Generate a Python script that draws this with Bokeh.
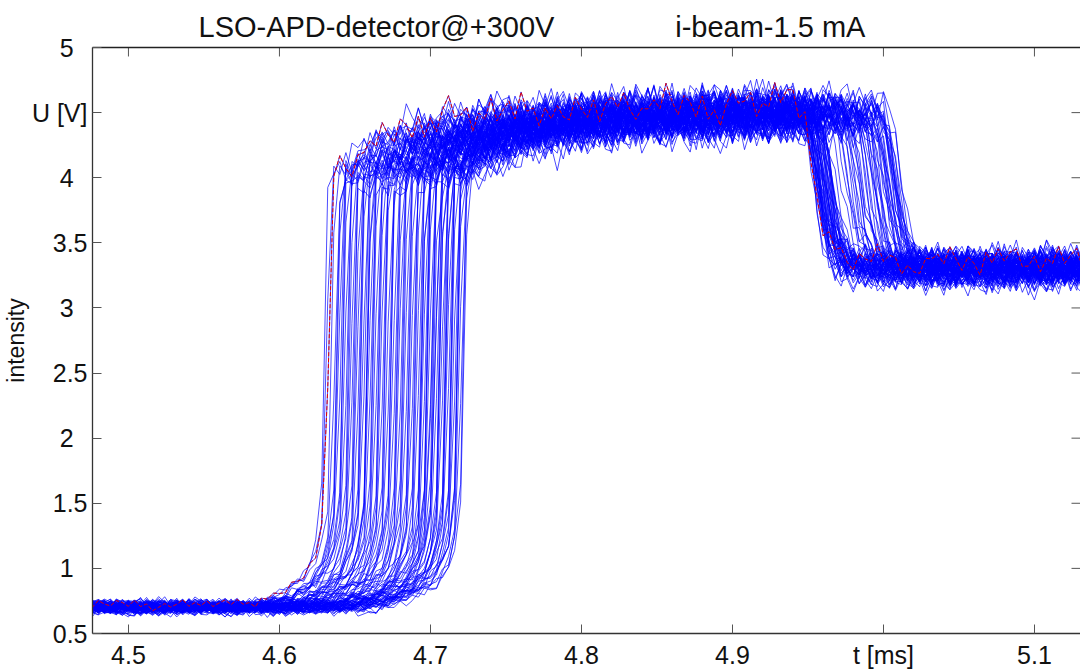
import numpy as np
from bokeh.plotting import figure
from bokeh.models import Range1d, FixedTicker, LinearAxis, Title
from bokeh.embed import file_html
from bokeh.resources import INLINE

# ---------------- values ----------------
title_left = "LSO-APD-detector@+300V"
title_right = "i-beam-1.5 mA"
y_title = "intensity"

x_ticks = [4.5, 4.6, 4.7, 4.8, 4.9, 5.0, 5.1]
x_tick_labels = ["4.5", "4.6", "4.7", "4.8", "4.9", "t [ms]", "5.1"]
y_ticks = [0.5, 1.0, 1.5, 2.0, 2.5, 3.0, 3.5, 4.0, 4.5, 5.0]
y_tick_labels = ["0.5", "1", "1.5", "2", "2.5", "3", "3.5", "4", "U [V]", "5"]

# oscilloscope sampling
sample_dt_ms = 0.004
t_first_ms = 4.472
n_samples = 167

# moment of the steep rise of each trace (ms), read along U ~ 2.5 V
rise_ms = [
    4.632, 4.705, 4.661, 4.688, 4.629, 4.717, 4.648, 4.694, 4.671, 4.655,
    4.711, 4.637, 4.683, 4.699, 4.665, 4.721, 4.644, 4.676, 4.708, 4.652,
    4.690, 4.634, 4.714, 4.668, 4.697, 4.641, 4.680, 4.658, 4.703, 4.686,
    4.719, 4.646, 4.673, 4.692, 4.639, 4.710, 4.663, 4.700, 4.650, 4.684,
    4.716, 4.657, 4.678, 4.706, 4.636, 4.695, 4.669, 4.712, 4.653, 4.689,
    4.643, 4.702, 4.674, 4.720, 4.660, 4.687, 4.631, 4.709, 4.666, 4.698,
    4.649, 4.681, 4.713, 4.656, 4.693, 4.640, 4.704, 4.672, 4.718, 4.662,
    4.685, 4.645, 4.707, 4.677, 4.696, 4.654, 4.715, 4.667, 4.701, 4.638,
    4.691, 4.659, 4.710, 4.682, 4.647, 4.706, 4.670, 4.722, 4.664, 4.697,
    4.651, 4.713, 4.679, 4.703, 4.642, 4.694, 4.675, 4.717, 4.658, 4.700,
]
# moment of the fall of each trace (ms), read along U ~ 3.9 V
fall_ms = [
    4.955, 4.998, 4.961, 5.006, 4.958, 4.976, 4.964, 5.010, 4.957, 4.991,
    4.966, 5.002, 4.960, 4.982, 4.956, 5.008, 4.963, 4.995, 4.959, 5.013,
    4.967, 4.988, 4.962, 5.004, 4.954, 4.979, 4.965, 4.999, 4.958, 5.011,
    4.961, 4.993, 4.968, 5.007, 4.956, 4.985, 4.963, 5.001, 4.960, 4.972,
    4.957, 5.009, 4.964, 4.990, 4.959, 5.005, 4.966, 4.997, 4.962, 5.012,
    4.955, 4.983, 4.965, 5.003, 4.958, 4.994, 4.961, 5.008, 4.969, 4.987,
    4.957, 5.000, 4.963, 4.974, 4.960, 5.006, 4.956, 4.992, 4.964, 5.010,
    4.959, 4.980, 4.962, 4.996, 4.967, 5.004, 4.955, 4.989, 4.961, 5.002,
    4.958, 4.977, 4.965, 5.009, 4.957, 4.998, 4.963, 5.011, 4.960, 4.986,
    4.966, 5.005, 4.959, 4.993, 4.956, 5.007, 4.962, 4.981, 4.964, 5.001,
]

# pulse shape around the rise (time relative to the rise, ms -> U in V)
rise_rel_ms = [-0.40, -0.060, -0.045, -0.035, -0.025, -0.018, -0.012, -0.008,
               -0.005, -0.0025, -0.001, 0.0025, 0.006, 0.012, 0.020, 0.035,
               0.050, 0.070, 0.100, 0.150, 0.250, 0.600]
rise_u = [0.70, 0.70, 0.73, 0.77, 0.83, 0.89, 0.97, 1.07,
          1.20, 1.38, 1.60, 3.92, 4.02, 4.08, 4.14, 4.22,
          4.29, 4.35, 4.41, 4.45, 4.48, 4.50]
# drop at the end of the pulse (time relative to the fall, ms -> drop in V)
fall_rel_ms = [-0.40, -0.012, -0.008, -0.004, 0.0, 0.004, 0.008, 0.012, 0.018, 0.030, 0.400]
fall_drop = [0.00, 0.00, 0.05, 0.25, 0.60, 0.88, 1.03, 1.11, 1.16, 1.19, 1.20]

# sample-to-sample wiggle (in units of the local noise)
wiggle_a = [0.3, -0.5, 0.8, -0.2, -0.9, 0.4, 0.1, -0.6, 0.9, -0.3, 0.5, -0.8,
            0.2, 0.7, -0.4, -0.1, 0.6, -0.7, 0.3, -0.2, 1.0, -0.5, 0.0, 0.4,
            -0.9, 0.6, -0.3, 0.2, -0.6, 0.8, -0.1, 0.5, -0.4, -0.8, 0.7, 0.1,
            -0.3, 0.9, -0.7, 0.2, 0.4, -0.5, 0.6, -0.2, -0.6, 0.3, 0.0]
# slower wander of the traces (in units of the local noise)
wander = [-0.4, 0.6, 0.1, -0.8, 0.5, -0.2, 0.9, -0.6, 0.3, -0.1, 0.7, -0.9,
          0.2, 0.4, -0.5, 0.8, -0.3, 0.0, 0.6, -0.7, 0.1, -0.4, 0.5]
red_trace = 0

# ---------------- build the traces ----------------
k = np.arange(n_samples)
t = t_first_ms + sample_dt_ms * k
wa = np.array(wiggle_a)
wd = np.array(wander)
La, Ld = len(wa), len(wd)
xs, ys = [], []
for i, (r, f) in enumerate(zip(rise_ms, fall_ms)):
    u = np.interp(t - r, rise_rel_ms, rise_u) - np.interp(t - f, fall_rel_ms, fall_drop)
    scale = 0.05 + 0.034 * (u - 0.7)
    fast = wa[(k + 17 * i) % La]
    pos = (k + 3 * i) / 4.0
    j0 = np.floor(pos).astype(int)
    fr = pos - j0
    slow = wd[j0 % Ld] * (1 - fr) + wd[(j0 + 1) % Ld] * fr
    lvl = wa[(7 * i + 2) % La]
    xs.append(t)
    ys.append(u + scale * (0.7 * fast + 0.7 * slow + 0.55 * lvl))

# ---------------- figure ----------------
FONT = "Liberation Sans"
x0 = 4.4762
frame_w = 1080 - 92
frame_h = 671 - 47 - 36
x1 = x0 + frame_w / 1510.0
y0, y1 = 0.5, 5.0
p = figure(width=1080, height=671, output_backend="svg", toolbar_location=None,
           x_range=Range1d(x0, x1), y_range=Range1d(y0, y1),
           min_border_left=92, min_border_right=0, min_border_top=47, min_border_bottom=36)
p.background_fill_color = "white"
p.border_fill_color = "white"
p.outline_line_color = None
p.xgrid.visible = False
p.ygrid.visible = False

p.multi_line(xs, ys, line_color="#0000ff", line_width=1.0, line_alpha=0.7)
p.line(xs[red_trace], ys[red_trace], line_color="#e00000", line_width=1.0, line_dash="4 2")

# inward ticks on the top and right edges
tick_len_x = 9.0 * (x1 - x0) / frame_w
tick_len_y = 9.0 * (y1 - y0) / frame_h
p.segment(x0=x_ticks, y0=[y1] * len(x_ticks), x1=x_ticks, y1=[y1 - tick_len_y] * len(x_ticks),
          line_color="#555555", line_width=1)
p.segment(x0=[x1] * len(y_ticks), y0=y_ticks, x1=[x1 - tick_len_x] * len(y_ticks), y1=y_ticks,
          line_color="#555555", line_width=1)

y_over = {}
for v, s in zip(y_ticks, y_tick_labels):
    y_over[v] = s + "\u2007" if s.isdigit() else s
x_over = dict(zip(x_ticks, x_tick_labels))

def style(ax, ticks):
    ax.ticker = FixedTicker(ticks=ticks)
    ax.minor_tick_line_color = None
    ax.major_tick_in = 9
    ax.major_tick_out = 0
    ax.major_tick_line_color = "#555555"
    ax.major_tick_line_width = 1
    ax.axis_line_color = "#333333"
    ax.axis_line_width = 1.3
    ax.major_label_text_font = FONT
    ax.major_label_text_font_size = "25px"
    ax.major_label_text_color = "#111111"

style(p.xaxis[0], x_ticks)
p.xaxis[0].major_label_overrides = x_over
p.xaxis[0].major_label_standoff = 7
style(p.yaxis[0], y_ticks)
p.yaxis[0].major_label_overrides = y_over
p.yaxis[0].major_label_standoff = 5

# top frame line (its ticks are drawn above as segments)
top = LinearAxis(ticker=FixedTicker(ticks=[]))
top.axis_line_color = "#222222"
top.axis_line_width = 1.3
top.minor_tick_line_color = None
top.major_tick_line_color = None
p.add_layout(top, "above")

gap = "\u00a0" * 15
p.title.text = title_left + gap + title_right
p.title.text_font = FONT
p.title.text_font_size = "29px"
p.title.text_font_style = "normal"
p.title.text_color = "#111111"
p.title.align = "left"
p.title.offset = 106
p.title.standoff = 9

p.add_layout(Title(text=y_title, align="center", text_font=FONT, text_font_size="23px",
                   text_font_style="normal", text_color="#111111", standoff=0), "left")

open("out.html", "w").write(file_html(p, INLINE))
